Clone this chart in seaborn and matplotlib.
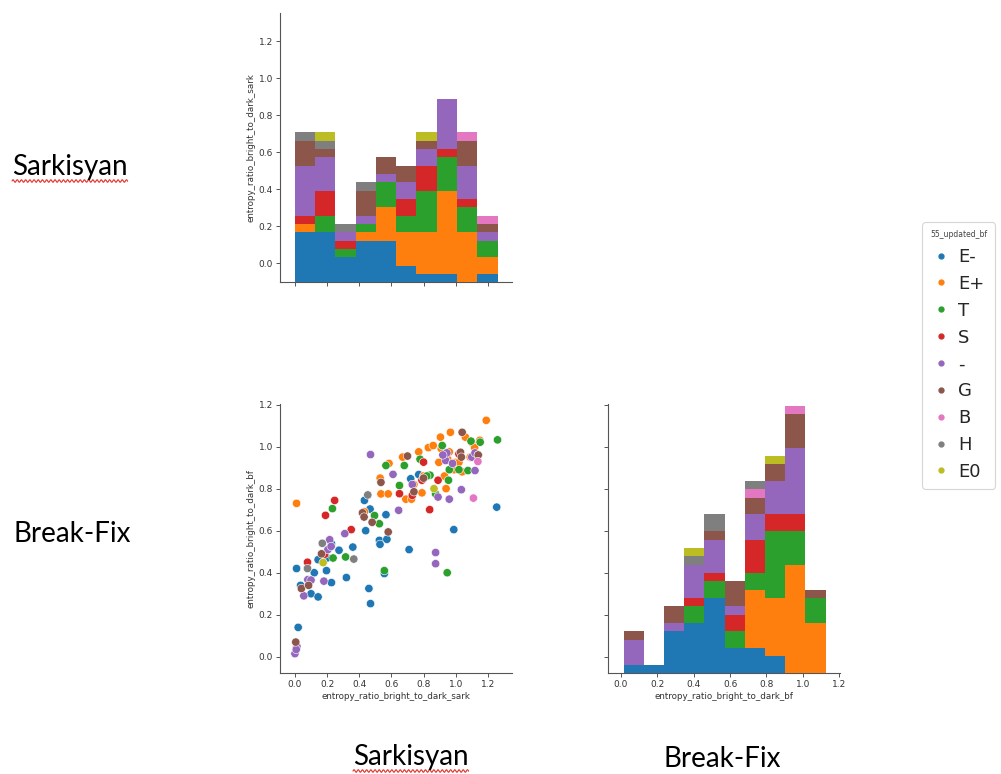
import numpy as np
import pandas as pd
import matplotlib
matplotlib.use("Agg")
import matplotlib.pyplot as plt
from matplotlib.lines import Line2D
import seaborn as sns

# ---------------- data ----------------
GROUPS = ["E-", "E+", "T", "S", "-", "G", "B", "H", "E0"]
HUE_TITLE = "55_updated_bf"
X_NAME = "entropy_ratio_bright_to_dark_sark"
Y_NAME = "entropy_ratio_bright_to_dark_bf"

SARK_E_MINUS = [0.01, 0.02, 0.01, 0.035, 0.10, 0.12, 0.144, 0.144, 0.196, 0.227,
                0.227, 0.20, 0.274, 0.32, 0.36, 0.432, 0.44, 0.46, 0.47, 0.467,
                0.525, 0.529, 0.556, 0.566, 0.572, 0.71, 0.72, 0.77, 0.988, 1.255]
BF_E_MINUS = [0.045, 0.14, 0.42, 0.34, 0.30, 0.40, 0.285, 0.462, 0.41, 0.353,
              0.538, 0.47, 0.507, 0.377, 0.522, 0.744, 0.60, 0.325, 0.253, 0.703,
              0.554, 0.535, 0.396, 0.676, 0.559, 0.51, 0.847, 0.867, 0.605, 0.712]

SARK_E_PLUS = [0.01, 0.432, 0.53, 0.535, 0.58, 0.585, 0.67, 0.69, 0.725, 0.77,
               0.79, 0.83, 0.86, 0.80, 0.74, 0.895, 0.905, 0.93, 0.967, 0.96,
               0.99, 0.95, 0.91, 1.0, 0.94, 1.02, 1.06, 1.10, 1.118, 1.04,
               1.09, 1.19, 1.15]
BF_E_PLUS = [0.73, 0.69, 0.85, 0.775, 0.775, 0.92, 0.95, 0.75, 0.75, 0.975,
             0.78, 0.995, 1.005, 0.86, 0.82, 0.925, 1.045, 0.86, 1.068, 0.975,
             0.89, 0.94, 0.99, 0.925, 0.80, 0.925, 1.045, 1.02, 0.995, 0.88,
             0.95, 1.125, 1.03]

SARK_T = [0.233, 0.237, 0.315, 0.495, 0.525, 0.556, 0.566, 0.65, 0.68,
          0.778, 0.84, 0.875, 0.80, 0.82, 0.916, 0.947, 0.96, 0.955, 1.02,
          1.076, 1.095, 1.152, 1.26]
BF_T = [0.705, 0.47, 0.475, 0.672, 0.633, 0.41, 0.91, 0.815, 0.91,
        0.94, 0.864, 0.775, 0.85, 0.86, 1.005, 0.40, 0.89, 0.84, 0.89,
        0.886, 1.026, 1.021, 1.032]

SARK_S = [0.078, 0.247, 0.19, 0.185, 0.35, 0.65, 0.73, 0.80, 0.79, 0.838, 0.89, 1.02]
BF_S = [0.45, 0.744, 0.673, 0.488, 0.605, 0.776, 0.768, 0.926, 0.84, 0.70, 0.84, 0.965]

SARK_DASH = [0.0, 0.012, 0.008, 0.055, 0.08, 0.10, 0.18, 0.216, 0.205, 0.225,
             0.31, 0.47, 0.61, 0.645, 0.73, 0.875, 0.875, 0.937, 0.945, 0.92,
             0.98, 0.89, 0.96, 1.035, 1.12, 1.10, 1.12, 1.14]
BF_DASH = [0.015, 0.05, 0.035, 0.29, 0.367, 0.365, 0.36, 0.557, 0.51, 0.525,
           0.586, 0.962, 0.868, 0.697, 0.82, 0.496, 0.443, 0.934, 0.97, 0.96,
           0.92, 0.76, 0.75, 0.795, 0.886, 0.95, 0.97, 0.96]

SARK_G = [0.005, 0.04, 0.085, 0.165, 0.42, 0.43, 0.48, 0.535, 0.58, 0.70,
          0.74, 0.80, 1.04, 1.03, 1.035, 1.14]
BF_G = [0.07, 0.325, 0.34, 0.49, 0.685, 0.665, 0.64, 0.83, 0.594, 0.955,
        0.785, 0.85, 1.068, 0.973, 0.95, 0.96]

SARK_B = [1.11, 1.138]
BF_B = [0.755, 0.929]

SARK_H = [0.078, 0.17, 0.366, 0.453]
BF_H = [0.42, 0.54, 0.465, 0.77]

SARK_E0 = [0.175, 0.865]
BF_E0 = [0.448, 0.80]

SARK_BY_GROUP = [SARK_E_MINUS, SARK_E_PLUS, SARK_T, SARK_S, SARK_DASH,
                 SARK_G, SARK_B, SARK_H, SARK_E0]
BF_BY_GROUP = [BF_E_MINUS, BF_E_PLUS, BF_T, BF_S, BF_DASH,
               BF_G, BF_B, BF_H, BF_E0]

TICKS = [0.0, 0.2, 0.4, 0.6, 0.8, 1.0, 1.2]

frames = []
for grp, xs, ys in zip(GROUPS, SARK_BY_GROUP, BF_BY_GROUP):
    frames.append(pd.DataFrame({X_NAME: xs, Y_NAME: ys, HUE_TITLE: grp}))
df = pd.concat(frames, ignore_index=True)

# ---------------- style ----------------
sns.set_style("ticks")
plt.rcParams["font.family"] = ["DejaVu Sans"]
plt.rcParams.update({
    "axes.edgecolor": "#555555",
    "axes.linewidth": 0.8,
    "xtick.color": "#555555",
    "ytick.color": "#555555",
    "xtick.labelcolor": "#333333",
    "ytick.labelcolor": "#333333",
    "xtick.major.size": 3,
    "ytick.major.size": 3,
    "xtick.major.width": 0.7,
    "ytick.major.width": 0.7,
    "xtick.labelsize": 6.5,
    "ytick.labelsize": 6.5,
    "axes.labelsize": 6.3,
    "axes.labelcolor": "#333333",
})

colors = sns.color_palette("tab10", len(GROUPS))
palette = dict(zip(GROUPS, colors))

# reversed hue order so that the first group sits at the bottom of each stack
g = sns.PairGrid(df, vars=[X_NAME, Y_NAME], hue=HUE_TITLE,
                 hue_order=GROUPS[::-1], palette=palette, height=2.7)
g.map_lower(sns.scatterplot, s=36, edgecolor="white", linewidth=0.4, legend=False)
g.map_diag(sns.histplot, multiple="stack", bins=10, element="bars",
           linewidth=0, alpha=1, shrink=1, legend=False)

fig = g.figure
fig.set_size_inches(10.01, 7.74)
fig.set_dpi(100)
W, H = 1001, 774
left, right = 280 / W, 840 / W
top, bottom = 1 - 13 / H, 1 - 673 / H
fig.subplots_adjust(left=left, right=right, top=top, bottom=bottom,
                    wspace=0.419, hspace=0.449)

g.axes[0, 1].set_visible(False)

ax_tl = g.axes[0, 0]
ax_sc = g.axes[1, 0]
ax_br = g.axes[1, 1]

ax_sc.set_xlim(-0.093, 1.347)
ax_sc.set_ylim(-0.077, 1.205)
ax_tl.set_ylim(-0.105, 1.354)
ax_br.set_xlim(-0.068, 1.204)
for dax in g.diag_axes:
    dax.set_ylim(0, 32.3)

for ax in (ax_tl, ax_sc, ax_br):
    ax.set_xticks(TICKS)
    ax.set_yticks(TICKS)
    ax.tick_params(pad=2)
    ax.xaxis.labelpad = 2
    ax.yaxis.labelpad = 2
ax_sc.set_xticklabels([f"{t:.1f}" for t in TICKS])
ax_sc.set_yticklabels([f"{t:.1f}" for t in TICKS])
ax_tl.set_yticklabels([f"{t:.1f}" for t in TICKS])
ax_br.set_xticklabels([f"{t:.1f}" for t in TICKS])
ax_br.tick_params(axis="y", labelleft=False)
ax_tl.tick_params(axis="x", labelbottom=False)

# ---------------- legend ----------------
handles = [Line2D([], [], marker="o", linestyle="", markersize=3.5,
                  markerfacecolor=palette[k], markeredgecolor=palette[k])
           for k in GROUPS]
leg = fig.legend(handles, GROUPS, title=HUE_TITLE, loc="upper left",
                 bbox_to_anchor=(922 / W, 1 - 222 / H), fontsize=13,
                 title_fontsize=5.5, frameon=True, handlelength=1.2,
                 handletextpad=0.35, labelspacing=0.49, borderaxespad=0,
                 borderpad=0.45, fancybox=True, alignment="left")
leg.get_frame().set_edgecolor("#cccccc")
leg.get_frame().set_linewidth(0.8)
leg.get_title().set_color("#444444")

# ---------------- outside labels ----------------
big = dict(fontsize=20, family=["Lato", "DejaVu Sans"], color="black", va="baseline")
t1 = fig.text(12 / W, 1 - 175 / H, "Sarkisyan", **big)
t2 = fig.text(13 / W, 1 - 542 / H, "Break-Fix", **big)
t3 = fig.text(353 / W, 1 - 765 / H, "Sarkisyan", **big)
t4 = fig.text(663 / W, 1 - 767 / H, "Break-Fix", **big)

# spell-check squiggle under "Sarkisyan"
fig.canvas.draw()
renderer = fig.canvas.get_renderer()
for t in (t1, t3):
    bb = t.get_window_extent(renderer)
    xs = np.linspace(bb.x0, bb.x1, 200)
    ys = (bb.y0 - 1.0) + 1.3 * np.sin((xs - bb.x0) / 4.2 * 2 * np.pi)
    fig.add_artist(Line2D(xs / W, ys / H, transform=fig.transFigure,
                          color="#e8302a", linewidth=0.8))

fig.savefig("out.png", dpi=100)
